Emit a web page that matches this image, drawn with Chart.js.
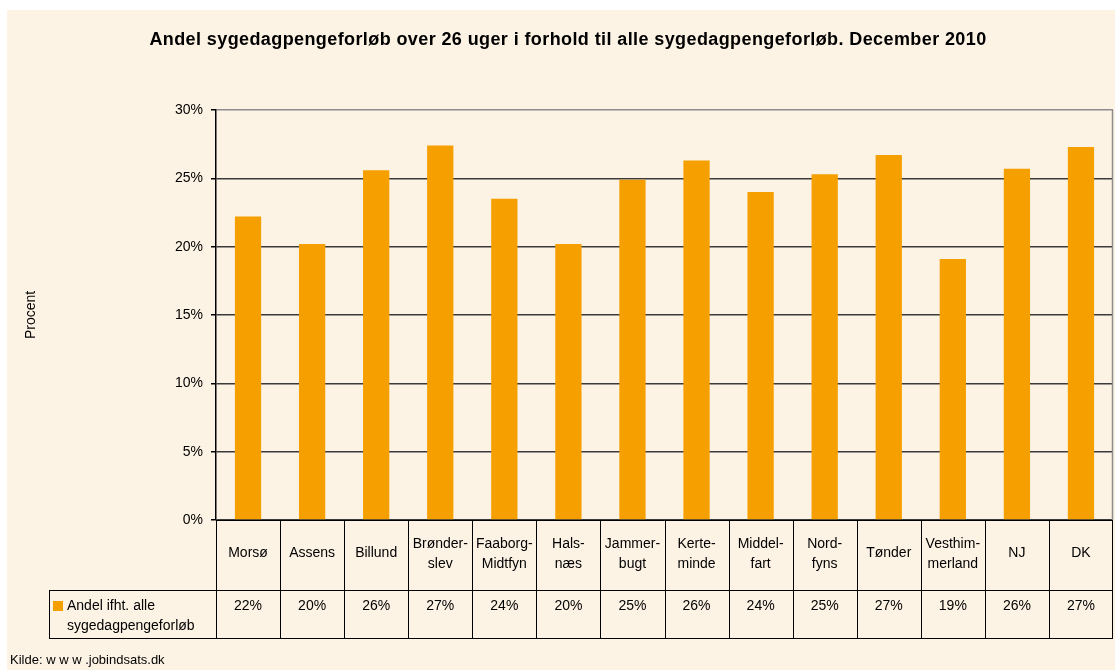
<!DOCTYPE html>
<html>
<head>
<meta charset="utf-8">
<script src="https://cdn.jsdelivr.net/npm/chart.js@4"></script>
<style>
  body { margin: 0; background: #fff; }
  canvas { display: block; }
</style>
</head>
<body>
<canvas id="myChart" width="1115" height="670"></canvas>
<script>
(() => {
	"use strict";

	const chartTitle = "Andel sygedagpengeforløb over 26 uger i forhold til alle sygedagpengeforløb. December 2010";
	const categories = [
		["Morsø"],
		["Assens"],
		["Billund"],
		["Brønder-", "slev"],
		["Faaborg-", "Midtfyn"],
		["Hals-", "næs"],
		["Jammer-", "bugt"],
		["Kerte-", "minde"],
		["Middel-", "fart"],
		["Nord-", "fyns"],
		["Tønder"],
		["Vesthim-", "merland"],
		["NJ"],
		["DK"],
	];
	const values = [22.2, 20.2, 25.6, 27.4, 23.5, 20.2, 24.9, 26.3, 24.0, 25.3, 26.7, 19.1, 25.7, 27.3];
	const seriesLabel = ["Andel ifht. alle", "sygedagpengeforløb"];
	const sourceText = "Kilde: w w w .jobindsats.dk";

	const FONT = "'Liberation Sans', Arial, sans-serif";
	const BAR = "#F59F00";
	const CREAM = "#FDF3E5";

	// background, title, data table under the axis
	const decor = {
		id: "decor",
		beforeDraw(chart) {
			const c = chart.ctx;
			c.save();
			c.fillStyle = "#fff";
			c.fillRect(0, 0, chart.width, chart.height);
			c.fillStyle = CREAM;
			c.fillRect(7, 10, chart.width - 7, chart.height - 10);
			c.fillStyle = "#000";
			c.font = "bold 18px " + FONT;
			c.letterSpacing = "0.4px";
			c.textAlign = "center";
			c.textBaseline = "middle";
			c.fillText(chartTitle, 568, 40);
			c.restore();
		},
		afterDraw(chart) {
			const c = chart.ctx;
			const x = chart.scales.x;
			const area = chart.chartArea;
			const n = categories.length;
			const w = (area.right - area.left) / n;
			const rowTop = area.bottom;
			const rowMid = 590;
			const rowBot = 638;
			const legLeft = 49;

			c.save();
			// right frame
			c.strokeStyle = "#8c8c8c";
			c.lineWidth = 1.5;
			c.beginPath();
			c.moveTo(area.right - 0.5, area.top);
			c.lineTo(area.right - 0.5, area.bottom);
			c.stroke();

			c.strokeStyle = "#000";
			c.lineWidth = 1;
			c.beginPath();
			c.moveTo(area.left, rowTop + 0.5);
			c.lineTo(area.right, rowTop + 0.5);
			c.moveTo(legLeft, rowMid + 0.5);
			c.lineTo(area.right, rowMid + 0.5);
			c.moveTo(legLeft, rowBot + 0.5);
			c.lineTo(area.right, rowBot + 0.5);
			c.moveTo(legLeft + 0.5, rowMid);
			c.lineTo(legLeft + 0.5, rowBot);
			for (let i = 0; i <= n; i++) {
				const px = Math.round(area.left + i * w) + (i === n ? -0.5 : 0.5);
				c.moveTo(px, rowTop);
				c.lineTo(px, rowBot);
			}
			c.stroke();

			c.fillStyle = "#000";
			c.font = "14px " + FONT;
			c.textAlign = "center";
			c.textBaseline = "middle";
			categories.forEach((lines, i) => {
				const cx = x.getPixelForValue(i);
				if (lines.length === 1) {
					c.fillText(lines[0], cx, 553);
				} else {
					c.fillText(lines[0], cx, 544);
					c.fillText(lines[1], cx, 564);
				}
				c.fillText(Math.round(values[i]) + "%", cx, 606);
			});

			// legend key
			c.fillStyle = BAR;
			c.fillRect(53, 601, 10, 10);
			c.fillStyle = "#000";
			c.textAlign = "left";
			c.fillText(seriesLabel[0], 67, 606);
			c.fillText(seriesLabel[1], 67, 626);

			c.font = "13px " + FONT;
			c.fillText(sourceText, 10, 660);
			c.restore();
		},
	};

	const ctx = document.getElementById("myChart");
	// eslint-disable-next-line no-unused-vars
	const myChart = new Chart(ctx, {
		type: "bar",
		data: {
			labels: categories,
			datasets: [
				{
					label: seriesLabel.join(" "),
					data: values,
					backgroundColor: BAR,
					borderWidth: 0,
					categoryPercentage: 1,
					barPercentage: 0.41,
				},
			],
		},
		options: {
			responsive: false,
			animation: false,
			layout: {
				padding: { left: 0, right: 2, top: 110, bottom: 150 },
			},
			plugins: {
				legend: { display: false },
				tooltip: { enabled: false },
			},
			scales: {
				x: {
					ticks: { display: false },
					grid: { display: false },
					border: { display: false },
					afterFit: (scale) => {
						scale.height = 0;
					},
				},
				y: {
					min: 0,
					max: 30,
					ticks: {
						stepSize: 5,
						color: "#000",
						padding: 8,
						font: { family: FONT, size: 14 },
						callback: (v) => v + "%",
					},
					grid: {
						color: (c) => (c.tick && c.tick.value === 30 ? "#8c8c8c" : "#3a3a3a"),
						lineWidth: 1.5,
						tickColor: "#000",
						tickLength: 5,
					},
					border: { display: true, color: "#000", width: 1.5 },
					title: {
						display: true,
						text: "Procent",
						color: "#000",
						font: { family: FONT, size: 14 },
						padding: { top: 23, bottom: 0 },
					},
					afterFit: (scale) => {
						scale.width = 216;
					},
				},
			},
		},
		plugins: [decor],
	});
})();
</script>
</body>
</html>
